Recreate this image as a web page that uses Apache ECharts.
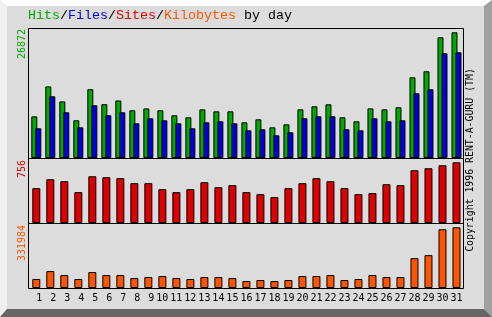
<!DOCTYPE html>
<html>
<head>
<meta charset="utf-8">
<script src="https://cdn.jsdelivr.net/npm/echarts@6/dist/echarts.min.js"></script>
<style>
html,body{margin:0;padding:0;background:#DCDCDC;}
#chart{width:492px;height:317px;}
</style>
</head>
<body>
<div id="chart"></div>
<script>
const days = ['1','2','3','4','5','6','7','8','9','10','11','12','13','14','15','16','17','18','19','20','21','22','23','24','25','26','27','28','29','30','31'];
const hits = [8900, 15300, 12100, 8060, 14700, 11500, 12300, 10200, 10600, 10200, 9130, 8700, 10400, 9980, 9980, 7630, 8270, 6560, 7200, 10400, 11050, 11480, 8700, 7850, 10600, 10400, 10840, 17250, 18540, 25800, 26872];
const files = [6350, 13190, 9770, 6560, 11270, 9130, 9770, 7420, 8490, 8060, 7420, 6350, 7630, 7850, 7420, 5920, 6140, 4850, 5500, 8490, 8920, 8920, 6140, 5920, 8490, 7850, 8060, 13830, 14690, 22390, 22600];
const sites = [434, 545, 520, 384, 582, 570, 558, 496, 496, 421, 384, 421, 508, 446, 471, 384, 359, 322, 434, 496, 558, 520, 434, 359, 372, 483, 471, 657, 682, 719, 756];
const kbytes = [48980, 92520, 70750, 48980, 87080, 70750, 70750, 54420, 59870, 65310, 54420, 48980, 59870, 59870, 54420, 38100, 43540, 38100, 43540, 65310, 65310, 70750, 43540, 48980, 70750, 59870, 59870, 163270, 179590, 321100, 331984];

const GREEN = '#00AA00', BLUE = '#0000DD', RED = '#DD0000', ORANGE = '#FF5500';
const MONO = 'DejaVu Sans Mono';
const TFONT = 'Liberation Mono';

const chart = echarts.init(document.getElementById('chart'), null, {renderer: 'canvas'});

function barStyle(c) { return {color: c, borderColor: '#000', borderWidth: 1}; }

const gl = 29.3, gw = 434.2;
const option = {
  backgroundColor: '#DCDCDC',
  animation: false,
  title: {
    left: 28, top: 9, padding: 0,
    text: '{g|Hits}{k|/}{b|Files}{k|/}{r|Sites}{k|/}{o|Kilobytes}{k| by day}',
    textStyle: {
      fontFamily: TFONT, fontSize: 13.33, fontWeight: 'normal',
      rich: {
        g: {color: GREEN, fontFamily: TFONT, fontSize: 13.33},
        b: {color: BLUE, fontFamily: TFONT, fontSize: 13.33},
        r: {color: RED, fontFamily: TFONT, fontSize: 13.33},
        o: {color: ORANGE, fontFamily: TFONT, fontSize: 13.33},
        k: {color: '#000', fontFamily: TFONT, fontSize: 13.33}
      }
    }
  },
  grid: [
    {left: gl, width: gw, top: 28, height: 130},
    {left: gl, width: gw, top: 158, height: 65},
    {left: gl, width: gw, top: 223, height: 65}
  ],
  xAxis: [
    {gridIndex: 0, type: 'category', data: days, show: false},
    {gridIndex: 1, type: 'category', data: days, show: false},
    {gridIndex: 2, type: 'category', data: days,
      axisLine: {show: false}, axisTick: {show: false},
      axisLabel: {interval: 0, margin: 5, fontFamily: MONO, fontSize: 10, color: '#000',
        formatter: v => (v.length < 2 ? ' ' + v : v)}}
  ],
  yAxis: [
    {gridIndex: 0, type: 'value', show: false, min: 0, max: v => v.max * 130 / 125.7, splitLine: {show: false}},
    {gridIndex: 1, type: 'value', show: false, min: 0, max: v => v.max * 65 / 60.7, splitLine: {show: false}},
    {gridIndex: 2, type: 'value', show: false, min: 0, max: v => v.max * 65 / 60.7, splitLine: {show: false}}
  ],
  series: [
    {name: 'Hits', type: 'bar', xAxisIndex: 0, yAxisIndex: 0, data: hits, barWidth: 6, barGap: '-33.3%', itemStyle: barStyle(GREEN)},
    {name: 'Files', type: 'bar', xAxisIndex: 0, yAxisIndex: 0, data: files, barWidth: 6, barGap: '-33.3%', itemStyle: barStyle(BLUE)},
    {name: 'Sites', type: 'bar', xAxisIndex: 1, yAxisIndex: 1, data: sites, barWidth: 8, itemStyle: barStyle(RED)},
    {name: 'Kilobytes', type: 'bar', xAxisIndex: 2, yAxisIndex: 2, data: kbytes, barWidth: 8, itemStyle: barStyle(ORANGE)}
  ],
  graphic: [
    // bevel
    {type: 'polygon', z: 1, shape: {points: [[0,0],[492,0],[484,6],[7,6]]}, style: {fill: '#FFFFFF'}},
    {type: 'polygon', z: 1, shape: {points: [[0,0],[7,6],[7,309],[0,317]]}, style: {fill: '#F0F0F0'}},
    {type: 'polygon', z: 1, shape: {points: [[492,0],[492,317],[484,309],[484,6]]}, style: {fill: '#A0A0A0'}},
    {type: 'polygon', z: 1, shape: {points: [[0,317],[7,309],[484,309],[492,317]]}, style: {fill: '#666666'}},
    // frames
    {type: 'rect', z: 100, shape: {x: 28.5, y: 28.5, width: 435, height: 260}, style: {fill: 'none', stroke: '#000', lineWidth: 1}},
    {type: 'line', z: 100, shape: {x1: 28, y1: 158.5, x2: 464, y2: 158.5}, style: {stroke: '#000', lineWidth: 1}},
    {type: 'line', z: 100, shape: {x1: 28, y1: 223.5, x2: 464, y2: 223.5}, style: {stroke: '#000', lineWidth: 1}},
    // max labels
    {type: 'text', z: 100, x: 22, y: 29, rotation: Math.PI / 2,
      style: {text: String(Math.max(...hits)), fill: GREEN, font: '10px ' + MONO, textAlign: 'right', textVerticalAlign: 'middle'}},
    {type: 'text', z: 100, x: 22, y: 160, rotation: Math.PI / 2,
      style: {text: String(Math.max(...sites)), fill: RED, font: '10px ' + MONO, textAlign: 'right', textVerticalAlign: 'middle'}},
    {type: 'text', z: 100, x: 22, y: 225, rotation: Math.PI / 2,
      style: {text: String(Math.max(...kbytes)), fill: ORANGE, font: '10px ' + MONO, textAlign: 'right', textVerticalAlign: 'middle'}},
    {type: 'text', z: 100, x: 470, y: 160, rotation: Math.PI / 2,
      style: {text: 'Copyright 1996 RENT-A-GURU (TM)', fill: '#000', font: '9.85px ' + MONO, textAlign: 'center', textVerticalAlign: 'middle'}}
  ]
};
chart.setOption(option);
</script>
</body>
</html>
